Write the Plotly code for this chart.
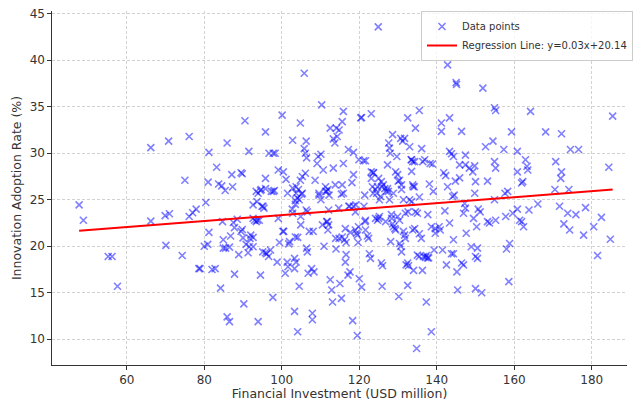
import plotly.graph_objects as go

# Data points (x: USD million, y: %)
x_vals = [
47.7,48.8,55.2,56.2,57.6,66.2,66.2,70.1,69.9,71.0,70.8,74.3,75.0,76.1,76.1,77.0,77.9,78.6,78.9,80.0,
80.9,80.4,81.0,81.2,81.2,82.0,82.8,83.2,83.7,84.5,85.4,84.2,84.7,84.9,84.9,85.5,85.9,86.5,85.9,86.5,
86.8,87.1,87.3,87.8,87.5,87.8,88.5,88.9,89.5,89.8,89.5,90.0,89.8,90.2,90.5,90.8,91.5,91.6,91.3,92.0,
92.6,92.6,93.6,93.0,93.7,94.2,93.9,92.6,93.9,94.5,94.5,94.9,95.4,95.1,95.8,95.8,95.8,95.8,96.1,96.6,
96.7,97.1,97.8,98.3,97.8,98.1,97.7,98.8,99.1,99.1,99.4,100.1,100.4,100.5,100.9,101.1,101.4,101.6,101.5,102.0,
101.8,102.8,102.8,102.7,103.3,103.3,103.7,103.3,103.7,104.3,103.5,103.5,104.0,103.5,104.1,104.1,104.5,104.8,104.8,105.3,
104.9,104.9,105.1,105.3,105.8,105.8,106.1,106.4,106.3,106.1,106.3,106.6,106.4,106.6,106.8,107.9,107.9,107.7,108.3,108.1,
108.6,109.4,109.1,110.1,109.6,110.1,110.3,110.7,110.9,111.3,111.9,111.6,111.6,112.1,111.9,112.1,112.5,112.5,112.9,113.1,
113.3,113.7,113.3,113.8,114.0,114.1,114.3,114.8,114.8,115.0,115.6,115.9,115.9,115.4,115.9,115.4,115.6,116.4,116.2,116.6,
116.4,116.6,117.1,117.6,117.2,117.5,117.7,118.1,118.3,118.5,118.5,119.0,119.3,119.5,119.8,119.1,118.5,119.5,119.7,119.9,
120.0,120.4,120.6,120.6,121.1,121.6,121.2,121.4,121.6,122.1,121.6,122.6,122.9,123.1,123.1,123.6,123.1,123.4,123.6,124.2,
124.7,124.2,124.7,125.2,124.9,125.2,125.5,125.7,126.2,125.7,126.0,125.9,126.6,127.0,127.3,126.8,127.3,127.6,127.8,128.0,
127.8,128.1,128.4,128.6,128.8,129.4,128.6,128.8,129.4,129.9,129.7,129.9,130.4,130.2,130.4,130.7,130.9,130.4,130.9,130.7,
131.2,131.7,131.4,131.4,131.7,131.9,131.9,132.1,132.7,132.5,132.5,132.5,133.0,133.0,133.5,133.5,133.8,133.5,133.8,134.2,
133.8,134.0,134.5,134.5,135.0,134.8,135.0,135.5,135.5,135.5,135.5,136.1,136.3,136.6,137.1,137.3,136.9,137.3,137.6,137.9,
138.1,138.3,138.9,138.6,138.6,139.1,139.3,139.6,139.6,140.6,140.9,141.2,141.2,141.5,141.8,142.3,142.1,142.5,142.8,142.8,
143.3,143.3,143.8,143.3,143.8,144.3,144.1,144.5,144.3,144.3,144.8,145.0,145.1,145.2,145.4,145.9,145.9,146.4,146.4,146.9,
146.9,147.2,147.4,147.4,147.4,147.6,148.4,148.9,149.3,149.5,149.8,149.8,150.0,150.0,150.5,150.0,150.3,150.5,150.7,151.2,
151.6,151.9,152.6,153.1,153.1,153.6,154.5,154.9,155.2,154.9,155.2,154.9,155.2,157.3,157.6,158.3,157.8,158.0,158.6,158.8,
159.3,159.6,160.8,160.8,160.8,161.4,161.9,161.9,162.2,162.4,162.9,163.3,163.5,163.8,164.2,166.1,168.1,170.5,170.7,171.7,
172.0,172.2,172.2,172.8,173.8,174.1,174.3,174.5,175.9,176.6,177.9,178.4,180.5,181.5,182.5,184.4,184.8,185.4,
123.7,125.0,125.8,127.5,124.5,130.05,130.9,133.9,134.3,136.4,133.4,93.4,94.7,97.3,102.8,103.7,104.5,109.6,111.3,112.2,
92.6,93.4,95.15,110.5,111.75,114.7,117.3,119.0,121.5,125.0,128.3,129.2,132.6,134.3,136.0,137.7,122.4,115.6,113.9,107.1,
100.3,91.8
]
y_vals = [
24.45,22.8,18.9,18.9,15.7,30.6,22.7,20.1,23.3,23.5,31.3,19.0,27.1,31.8,23.2,23.6,24.0,17.6,17.6,20.0,
20.2,24.7,26.9,30.1,21.5,17.5,17.6,28.5,26.7,26.5,26.0,15.5,22.65,20.7,19.8,19.8,12.4,11.9,31.1,19.9,
21.1,27.7,26.4,22.0,22.55,17.0,22.9,19.1,27.9,27.8,21.6,20.9,21.8,13.8,33.5,20.2,30.2,19.95,19.3,21.2,
20.95,24.45,24.8,22.8,22.8,22.8,25.7,19.95,11.9,16.9,26.0,24.3,24.1,19.4,19.3,32.3,27.3,26.2,19.2,18.9,
30.0,19.6,30.0,30.0,25.9,26.0,14.5,18.3,28.2,23.0,20.4,34.1,28.0,21.6,17.1,27.2,18.3,17.8,25.7,20.5,
20.25,31.4,23.55,24.0,13.0,18.7,18.3,17.6,26.4,26.1,24.9,24.5,25.2,21.0,20.95,10.8,15.7,33.25,27.1,27.5,
22.3,23.2,25.6,25.7,38.6,30.5,30.0,29.5,31.3,27.85,23.9,23.7,19.8,19.4,17.1,12.8,12.1,17.6,17.25,21.6,
27.1,29.65,28.9,29.9,25.7,25.0,35.2,28.2,20.0,26.4,26.1,25.9,22.65,22.3,21.75,23.9,32.7,16.4,15.3,14.0,
31.55,31.1,28.4,26.6,19.7,32.7,31.8,32.5,20.85,16.0,33.4,34.5,25.7,25.6,28.9,14.4,26.6,18.3,20.7,20.4,
21.9,19.1,16.9,17.25,30.4,24.3,21.5,26.85,12.0,27.7,30.1,21.75,21.4,21.2,22.1,24.45,24.3,10.4,20.4,29.3,
16.5,33.8,33.85,15.6,29.2,29.2,24.3,25.5,21.75,21.1,22.8,19.2,18.7,34.25,28.0,27.9,27.3,26.4,25.7,26.1,
26.4,23.0,22.8,23.2,43.6,25.0,25.35,26.95,26.6,18.2,17.9,15.7,26.2,25.9,26.2,22.65,28.75,31.1,30.55,30.0,
25.0,20.5,23.0,22.4,22.1,21.75,32.0,25.7,28.0,27.7,29.65,23.2,22.8,14.6,20.3,20.0,19.4,27.1,26.6,31.6,
31.3,31.6,25.0,21.6,21.2,20.85,23.55,18.0,17.9,18.2,33.8,15.8,30.7,25.0,24.8,29.3,29.1,28.05,26.6,26.4,
21.75,17.4,32.7,23.7,23.55,9.0,19.05,18.9,34.6,25.3,21.35,30.5,17.4,18.9,18.8,19.0,29.3,14.0,18.75,18.75,
26.7,28.9,28.85,10.8,22.1,25.9,19.6,21.9,21.4,22.1,21.75,33.25,32.35,19.6,27.9,27.6,23.8,18.0,39.5,26.4,
33.8,30.2,29.95,22.5,19.2,19.2,25.35,25.5,20.7,29.65,27.0,37.6,37.4,17.25,15.3,28.75,27.35,32.35,18.2,18.0,
23.55,24.6,24.1,28.75,29.8,21.4,28.4,19.95,28.0,23.0,28.65,25.7,26.95,18.9,18.7,15.45,22.1,19.8,24.0,23.7,
15.0,37.0,30.7,27.0,22.65,22.5,31.3,34.9,34.6,29.1,28.4,25.0,22.8,30.4,25.7,25.9,23.2,19.7,16.2,20.3,
32.3,23.55,30.2,28.0,24.0,22.8,22.65,26.8,26.95,22.1,29.3,28.6,28.2,23.9,34.5,24.55,32.3,26.1,29.1,24.3,
27.3,28.0,32.1,22.4,23.55,26.1,21.75,30.4,23.4,30.4,21.2,24.15,22.1,19.0,23.1,28.5,20.75,34.0,
27.9,27.3,26.4,25.9,25.7,27.0,26.1,26.4,29.1,29.1,29.3,25.9,26.1,25.9,26.25,25.7,25.0,25.5,25.9,25.5,
23.0,22.65,24.3,22.3,22.65,24.1,24.3,23.7,22.65,23.0,23.4,21.9,23.7,21.9,20.85,23.4,20.85,21.0,20.85,21.6,
21.6,20.85
]

# Regression line from the legend label (y = 0.03x + 20.14)
reg_slope = 0.0321
reg_intercept = 20.14
reg_label = "Regression Line: y=0.03x+20.14"

x_line = [min(x_vals), max(x_vals)]
y_line = [reg_slope * v + reg_intercept for v in x_line]

font_family = "DejaVu Sans, Verdana, sans-serif"

fig = go.Figure()
fig.add_trace(go.Scatter(
    x=x_vals, y=y_vals, mode="markers", name="Data points",
    marker=dict(symbol="x-thin", size=7, color="rgba(0,0,255,0.5)",
                line=dict(width=1.6, color="rgba(0,0,255,0.5)")),
))
fig.add_trace(go.Scatter(
    x=x_line, y=y_line, mode="lines", name=reg_label,
    line=dict(color="red", width=2),
))

axis_common = dict(
    showgrid=True, gridcolor="#d2d2d2", griddash="3px,2px", gridwidth=0.8,
    showline=True, linecolor="#333333", linewidth=1.2,
    ticks="outside", ticklen=3.5, tickwidth=1, tickcolor="#333333",
    tickfont=dict(family=font_family, size=12, color="#333333"),
    zeroline=False,
)

fig.update_layout(
    width=633, height=401,
    margin=dict(l=52, r=0, t=11, b=36, pad=0),
    paper_bgcolor="white", plot_bgcolor="white",
    font=dict(family=font_family, color="#333333"),
    showlegend=True,
    legend=dict(
        x=0.642, y=1.0, xanchor="left", yanchor="top",
        bgcolor="rgba(255,255,255,0.8)", bordercolor="#cccccc", borderwidth=1,
        font=dict(family=font_family, size=10, color="#333333"),
        itemwidth=30, tracegroupgap=0,
    ),
)
fig.update_xaxes(
    range=[40.7, 189.1], tickvals=[60, 80, 100, 120, 140, 160, 180],
    title=dict(text="Financial Investment (USD million)", standoff=5,
               font=dict(family=font_family, size=12.5, color="#333333")),
    automargin=False,
    **axis_common,
)
fig.update_yaxes(
    range=[7.23, 45.3], tickvals=[10, 15, 20, 25, 30, 35, 40, 45],
    title=dict(text="Innovation Adoption Rate (%)", standoff=5,
               font=dict(family=font_family, size=12.5, color="#333333")),
    **axis_common,
)

fig.write_html(
    "out.html",
    config={"displayModeBar": False},
    post_script="document.body.style.margin='0';document.body.style.padding='0';document.body.style.overflow='hidden';",
)
